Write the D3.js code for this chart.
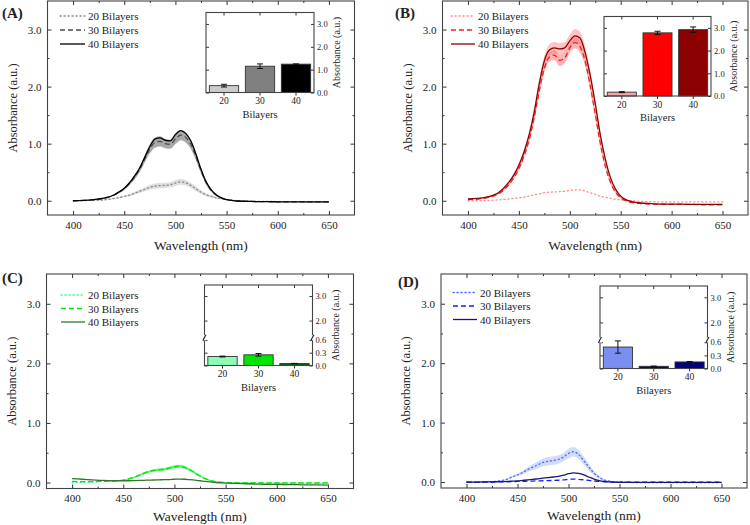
<!DOCTYPE html>
<html><head><meta charset="utf-8">
<script src="https://cdn.jsdelivr.net/npm/d3@7"></script>
<style>
body{margin:0;background:#fff}
svg{display:block}
svg text{font-family:'Liberation Serif','Times New Roman','DejaVu Serif',serif !important;fill:#222}
</style>
</head><body>
<svg id="c" width="750" height="525" style="font-family:'Liberation Serif',serif"></svg>
<script>
// ---------------- DATA ----------------
const wavelengths = [400,410,420,430,440,445,450,455,460,465,470,475,480,485,490,495,500,505,510,515,520,525,530,535,540,545,550,555,560,570,580,590,600,610,620,630,640,650];
const seriesLabels = ["20 Bilayers","30 Bilayers","40 Bilayers"];
const barCategories = ["20","30","40"];
const xTickValues = [400,450,500,550,600,650];
const xMinorValues = [425,475,525,575,625];
const yTickValues = [0,1,2,3];
const yMinorValues = [0.5,1.5,2.5];
const insetTicks = [0,1,2,3];
const insetTicksLow = [0,0.3,0.6];
const insetTicksHigh = [2,3];

// Panel A (grey)
const absA20 = [0,0.003,0.008,0.015,0.04,0.055,0.075,0.10,0.13,0.165,0.20,0.235,0.255,0.265,0.27,0.28,0.31,0.33,0.315,0.27,0.21,0.15,0.105,0.075,0.05,0.035,0.02,0.01,0.0,-0.005,-0.01,-0.01,-0.015,-0.015,-0.015,-0.02,-0.02,-0.02];
const absA30 = [0,0.005,0.015,0.04,0.10,0.15,0.21,0.30,0.41,0.55,0.73,0.91,1.02,1.04,1.00,0.99,1.08,1.15,1.11,0.99,0.78,0.53,0.32,0.18,0.10,0.05,0.02,0.005,-0.005,-0.01,-0.015,-0.015,-0.02,-0.02,-0.02,-0.02,-0.02,-0.02];
const absA40 = [0,0.005,0.02,0.045,0.10,0.155,0.22,0.31,0.43,0.57,0.76,0.95,1.08,1.10,1.06,1.05,1.16,1.23,1.18,1.05,0.82,0.55,0.33,0.19,0.10,0.05,0.02,0.005,-0.005,-0.01,-0.015,-0.015,-0.02,-0.02,-0.02,-0.02,-0.02,-0.02];
const sdA20 = [0,0,0.005,0.005,0.01,0.01,0.015,0.02,0.025,0.03,0.035,0.04,0.045,0.045,0.045,0.045,0.05,0.05,0.05,0.045,0.04,0.03,0.025,0.02,0.015,0.01,0.005,0.005,0,0,0,0,0,0,0,0,0,0];
const sdA30 = [0,0,0.005,0.005,0.01,0.015,0.02,0.03,0.04,0.05,0.06,0.08,0.09,0.09,0.08,0.08,0.09,0.09,0.09,0.08,0.07,0.05,0.035,0.02,0.015,0.01,0.005,0,0,0,0,0,0,0,0,0,0,0];
const barsA = [0.30,1.15,1.24];
const errA = [0.06,0.10,0.01];

// Panel B (red)
const absB20 = [0,0,0.005,0.015,0.03,0.04,0.05,0.065,0.08,0.10,0.12,0.14,0.15,0.155,0.16,0.165,0.18,0.19,0.19,0.17,0.14,0.11,0.08,0.06,0.04,0.025,0.015,0.005,0.0,-0.01,-0.015,-0.02,-0.02,-0.02,-0.02,-0.02,-0.02,-0.02];
const absB30 = [0.02,0.03,0.06,0.12,0.28,0.40,0.56,0.78,1.06,1.45,1.92,2.32,2.52,2.55,2.46,2.50,2.68,2.77,2.70,2.45,2.02,1.52,1.00,0.60,0.32,0.15,0.05,0.0,-0.03,-0.05,-0.06,-0.06,-0.065,-0.065,-0.065,-0.07,-0.07,-0.07];
const absB40 = [0.03,0.04,0.07,0.14,0.32,0.45,0.62,0.85,1.15,1.55,2.05,2.45,2.64,2.68,2.66,2.68,2.80,2.89,2.85,2.60,2.20,1.70,1.15,0.72,0.40,0.20,0.08,0.02,-0.01,-0.04,-0.05,-0.06,-0.06,-0.06,-0.065,-0.065,-0.065,-0.065];
const sdB30 = [0,0,0.01,0.01,0.02,0.02,0.03,0.03,0.04,0.05,0.06,0.07,0.08,0.09,0.10,0.09,0.09,0.10,0.10,0.09,0.08,0.07,0.05,0.04,0.03,0.02,0.01,0.01,0,0,0,0,0,0,0,0,0,0];
const sdB40 = [0,0,0.01,0.01,0.02,0.03,0.04,0.05,0.06,0.07,0.08,0.09,0.10,0.10,0.10,0.10,0.11,0.12,0.11,0.10,0.09,0.07,0.05,0.04,0.03,0.02,0.01,0.01,0,0,0,0,0,0,0,0,0,0];
const barsB = [0.17,2.78,2.92];
const errB = [0.02,0.07,0.12];

// Panel C (green)
const absC20 = [0,0.005,0.01,0.02,0.025,0.03,0.04,0.055,0.08,0.11,0.15,0.18,0.20,0.21,0.22,0.24,0.26,0.27,0.25,0.21,0.16,0.11,0.065,0.035,0.015,0.005,0.0,-0.005,-0.01,-0.01,-0.015,-0.015,-0.015,-0.015,-0.015,-0.015,-0.015,-0.015];
const absC30 = [0.02,0.015,0.015,0.02,0.025,0.03,0.04,0.06,0.085,0.12,0.155,0.185,0.205,0.215,0.225,0.245,0.265,0.275,0.255,0.215,0.165,0.11,0.065,0.035,0.015,0.005,0.0,0.0,-0.005,-0.005,-0.005,-0.005,-0.005,-0.005,-0.005,-0.005,-0.005,-0.005];
const absC40 = [0.065,0.055,0.045,0.035,0.03,0.03,0.03,0.03,0.032,0.035,0.038,0.04,0.043,0.045,0.048,0.05,0.055,0.058,0.055,0.048,0.04,0.03,0.02,0.01,0.0,-0.005,-0.01,-0.012,-0.015,-0.02,-0.025,-0.03,-0.03,-0.035,-0.035,-0.04,-0.04,-0.045];
const sdC20 = [0,0,0,0,0.005,0.005,0.005,0.01,0.01,0.012,0.015,0.015,0.018,0.018,0.02,0.02,0.022,0.022,0.02,0.018,0.015,0.012,0.01,0.008,0.005,0.005,0.005,0.005,0.005,0.005,0.005,0.005,0.005,0.005,0.005,0.005,0.005,0.005];
const sdC30 = [0,0,0,0,0.005,0.005,0.006,0.01,0.012,0.014,0.016,0.017,0.018,0.02,0.02,0.022,0.024,0.024,0.022,0.02,0.016,0.012,0.01,0.008,0.006,0.006,0.006,0.006,0.006,0.006,0.006,0.006,0.006,0.006,0.006,0.006,0.006,0.006];
const barsC = [0.21,0.25,0.045];
const errC = [0.01,0.03,0.005];

// Panel D (blue)
const absD20 = [0,0,0.005,0.015,0.05,0.09,0.12,0.16,0.21,0.25,0.29,0.33,0.35,0.36,0.38,0.42,0.48,0.51,0.46,0.36,0.25,0.15,0.08,0.035,0.015,0.005,0,0,-0.005,-0.01,-0.01,-0.01,-0.01,-0.01,-0.01,-0.01,-0.01,-0.01];
const absD30 = [0,0,0,0.002,0.005,0.007,0.01,0.012,0.015,0.017,0.02,0.022,0.025,0.027,0.03,0.036,0.045,0.05,0.046,0.038,0.028,0.018,0.01,0.005,0.002,0,0,0,0,0,0,0,0,0,0,0,0,0];
const absD40 = [0,0,0.002,0.005,0.01,0.015,0.02,0.028,0.036,0.045,0.055,0.065,0.075,0.085,0.095,0.115,0.14,0.155,0.145,0.12,0.085,0.05,0.025,0.01,0.003,-0.002,-0.004,-0.005,-0.005,-0.005,-0.005,-0.005,-0.005,-0.005,-0.005,-0.005,-0.005,-0.005];
const sdD20 = [0,0,0,0.005,0.01,0.015,0.02,0.03,0.04,0.05,0.06,0.065,0.07,0.07,0.07,0.07,0.08,0.08,0.075,0.07,0.06,0.04,0.025,0.015,0.01,0.005,0,0,0,0,0,0,0,0,0,0,0,0];
const barsD = [0.49,0.05,0.15];
const errD = [0.14,0.005,0.01];

// ---------------- DRAWING ----------------
const svg = d3.select("#c");
const FONT = "'Liberation Serif','Times New Roman',serif";
const dashes = ["1.2,2.8","5,3",null];

function styleAxis(sel, size) {
  sel.select(".domain").remove();
  sel.attr("font-family", FONT).attr("font-size", size);
  sel.selectAll("line").attr("stroke", "#333").attr("stroke-width", 1);
  sel.selectAll("text").attr("fill", "#222").style("font-family", FONT);
}
function txt(sel) { return sel.style("font-family", FONT); }

function drawPanel(p) {
  const g = svg.append("g");
  const x = d3.scaleLinear().domain([375, 675]).range([p.left, p.right]);
  const y = d3.scaleLinear().domain(p.yDomain).range([p.bottom, p.top]);

  p.series.forEach(s => {
    if (!s.sd) return;
    const area = d3.area()
      .x((d, i) => x(wavelengths[i]))
      .y0((d, i) => y(d - s.sd[i]))
      .y1((d, i) => y(d + s.sd[i]))
      .curve(d3.curveMonotoneX);
    g.append("path").datum(s.values).attr("d", area)
      .attr("fill", s.band).attr("opacity", s.bandOpacity);
  });
  const line = d3.line().x((d, i) => x(wavelengths[i])).y(d => y(d)).curve(d3.curveMonotoneX);
  p.series.forEach((s, k) => {
    g.append("path").datum(s.values).attr("d", line)
      .attr("fill", "none").attr("stroke", s.color).attr("stroke-width", 1.3)
      .attr("stroke-linecap", k === 0 ? "round" : "butt")
      .attr("stroke-dasharray", dashes[k]);
  });

  const gb = g.append("g").attr("transform", `translate(0,${p.bottom})`)
    .call(d3.axisBottom(x).tickValues(xTickValues).tickSize(-4).tickPadding(6).tickFormat(d3.format("d")));
  styleAxis(gb, 11);
  styleAxis(g.append("g").attr("transform", `translate(0,${p.bottom})`)
    .call(d3.axisBottom(x).tickValues(xMinorValues).tickSize(-2).tickFormat("")), 11);
  styleAxis(g.append("g").attr("transform", `translate(0,${p.top})`)
    .call(d3.axisTop(x).tickValues(xTickValues).tickSize(-4).tickFormat("")), 11);
  styleAxis(g.append("g").attr("transform", `translate(0,${p.top})`)
    .call(d3.axisTop(x).tickValues(xMinorValues).tickSize(-2).tickFormat("")), 11);
  styleAxis(g.append("g").attr("transform", `translate(${p.left},0)`)
    .call(d3.axisLeft(y).tickValues(yTickValues).tickSize(-4).tickPadding(6).tickFormat(d3.format(".1f"))), 11);
  styleAxis(g.append("g").attr("transform", `translate(${p.left},0)`)
    .call(d3.axisLeft(y).tickValues(yMinorValues).tickSize(-2).tickFormat("")), 11);
  styleAxis(g.append("g").attr("transform", `translate(${p.right},0)`)
    .call(d3.axisRight(y).tickValues(yTickValues).tickSize(-4).tickFormat("")), 11);
  styleAxis(g.append("g").attr("transform", `translate(${p.right},0)`)
    .call(d3.axisRight(y).tickValues(yMinorValues).tickSize(-2).tickFormat("")), 11);

  g.append("rect").attr("x", p.left).attr("y", p.top)
    .attr("width", p.right - p.left).attr("height", p.bottom - p.top)
    .attr("fill", "none").attr("stroke", "#444").attr("stroke-width", 1.1);

  txt(g.append("text").attr("x", (p.left + p.right) / 2).attr("y", p.bottom + p.xTitleGap)
    .attr("text-anchor", "middle").attr("font-size", 13.5).text("Wavelength (nm)"));
  txt(g.append("text").attr("transform", `translate(${p.left - 31},${(p.top + p.bottom) / 2}) rotate(-90)`)
    .attr("text-anchor", "middle").attr("font-size", 12.5).text("Absorbance (a.u.)"));
  txt(g.append("text").attr("x", p.labelX).attr("y", p.labelY)
    .attr("font-size", 15).attr("font-weight", "bold").text(p.label));

  p.series.forEach((s, k) => {
    const ly = p.legend.y[k];
    g.append("line").attr("x1", p.legend.x0).attr("x2", p.legend.x1).attr("y1", ly).attr("y2", ly)
      .attr("stroke", s.color).attr("stroke-width", 1.3)
      .attr("stroke-linecap", k === 0 ? "round" : "butt")
      .attr("stroke-dasharray", dashes[k]);
    txt(g.append("text").attr("x", p.legend.tx).attr("y", ly + 4).attr("font-size", 11).text(seriesLabels[k]));
  });

  drawInset(g, p.inset);
}

function drawInset(g, ins) {
  const gi = g.append("g");
  gi.append("rect").attr("x", ins.left).attr("y", ins.top)
    .attr("width", ins.right - ins.left).attr("height", ins.bottom - ins.top)
    .attr("fill", "#fff").attr("stroke", "none");
  const xb = d3.scaleBand().domain(barCategories).range([ins.left, ins.right])
    .paddingInner(0.186).paddingOuter(0.093);
  let yb, lo, hi, brkY;
  if (!ins.broken) {
    lo = d3.scaleLinear().domain([0, 3.5]).range([ins.bottom, ins.top]);
    yb = v => lo(v);
  } else {
    const h = ins.bottom - ins.top;
    brkY = ins.bottom - 0.345 * h;
    lo = d3.scaleLinear().domain([0, 0.65]).range([ins.bottom, brkY]);
    hi = d3.scaleLinear().domain([1.3, 3.45]).range([brkY, ins.top]);
    yb = v => v <= 0.65 ? lo(v) : hi(v);
  }
  barCategories.forEach((c, i) => {
    gi.append("rect").attr("x", xb(c)).attr("y", yb(ins.values[i]))
      .attr("width", xb.bandwidth()).attr("height", ins.bottom - yb(ins.values[i]))
      .attr("fill", ins.colors[i]).attr("stroke", "#333").attr("stroke-width", 0.9);
    const cx = xb(c) + xb.bandwidth() / 2;
    const y1 = yb(ins.values[i] + ins.err[i]), y2 = yb(Math.max(0, ins.values[i] - ins.err[i]));
    gi.append("line").attr("x1", cx).attr("x2", cx).attr("y1", y1).attr("y2", y2).attr("stroke", "#111").attr("stroke-width", 1);
    [y1, y2].forEach(yy => gi.append("line").attr("x1", cx - 3).attr("x2", cx + 3).attr("y1", yy).attr("y2", yy).attr("stroke", "#111").attr("stroke-width", 1));
  });
  const gx = gi.append("g").attr("transform", `translate(0,${ins.bottom})`)
    .call(d3.axisBottom(xb).tickSize(3).tickPadding(2));
  styleAxis(gx, 9.5);
  styleAxis(gi.append("g").attr("transform", `translate(0,${ins.top})`)
    .call(d3.axisTop(xb).tickSize(-3).tickFormat("")), 9);
  const axes = ins.broken ? [[lo, insetTicksLow], [hi, insetTicksHigh]] : [[lo, insetTicks]];
  axes.forEach(([sc, tv]) => {
    styleAxis(gi.append("g").attr("transform", `translate(${ins.right},0)`)
      .call(d3.axisRight(sc).tickValues(tv).tickSize(-3).tickPadding(3).tickFormat(d3.format(".1f"))), 8.5);
    styleAxis(gi.append("g").attr("transform", `translate(${ins.left},0)`)
      .call(d3.axisLeft(sc).tickValues(tv).tickSize(-3).tickFormat("")), 8.5);
  });
  gi.append("rect").attr("x", ins.left).attr("y", ins.top)
    .attr("width", ins.right - ins.left).attr("height", ins.bottom - ins.top)
    .attr("fill", "none").attr("stroke", "#444").attr("stroke-width", 1.1);
  if (ins.broken) {
    [ins.left, ins.right].forEach(xx => {
      gi.append("rect").attr("x", xx - 2).attr("y", brkY - 2.5).attr("width", 4).attr("height", 5).attr("fill", "#fff");
      gi.append("path").attr("d", `M${xx - 1.5},${brkY + 3} Q${xx - 0.5},${brkY} ${xx + 1.5},${brkY - 3}`)
        .attr("fill", "none").attr("stroke", "#222").attr("stroke-width", 1.2);
    });
  }
  txt(gi.append("text").attr("x", (ins.left + ins.right) / 2).attr("y", ins.bottom + 25)
    .attr("text-anchor", "middle").attr("font-size", 10.5).text("Bilayers"));
  txt(gi.append("text").attr("transform", `translate(${ins.right + 26},${(ins.top + ins.bottom) / 2}) rotate(-90)`)
    .attr("text-anchor", "middle").attr("font-size", 10).text("Absorbance (a.u.)"));
}

const panels = [
  { label: "(A)", labelX: 2, labelY: 18, left: 47.5, right: 354.5, top: 1, bottom: 215, yDomain: [-0.25, 3.5], xTitleGap: 35,
    legend: { x0: 60, x1: 85, tx: 88, y: [16, 30, 44] },
    series: [
      { values: absA20, sd: sdA20, color: "#8c8c8c", band: "#bdbdbd", bandOpacity: 0.5 },
      { values: absA30, sd: sdA30, color: "#4a4a4a", band: "#707070", bandOpacity: 0.6 },
      { values: absA40, sd: null, color: "#000000" } ],
    inset: { left: 206, right: 314, top: 12.5, bottom: 92.5, values: barsA, err: errA, broken: false,
      colors: ["#cccccc", "#808080", "#000000"] } },
  { label: "(B)", labelX: 395, labelY: 18, left: 442.5, right: 748, top: 1, bottom: 215, yDomain: [-0.25, 3.5], xTitleGap: 35,
    legend: { x0: 451, x1: 475, tx: 478, y: [16, 30, 44] },
    series: [
      { values: absB20, sd: null, color: "#ff8c8c" },
      { values: absB30, sd: sdB30, color: "#ff1a1a", band: "#ff5a5a", bandOpacity: 0.45 },
      { values: absB40, sd: sdB40, color: "#8b0000", band: "#ff6a6a", bandOpacity: 0.4 } ],
    inset: { left: 604, right: 711, top: 16.5, bottom: 96, values: barsB, err: errB, broken: false,
      colors: ["#f5a3a3", "#ff0000", "#8b0000"] } },
  { label: "(C)", labelX: 2, labelY: 283, left: 46.5, right: 353.5, top: 274, bottom: 488.5, yDomain: [-0.1, 3.5], xTitleGap: 32,
    legend: { x0: 61, x1: 85, tx: 88, y: [295, 308.5, 322] },
    series: [
      { values: absC20, sd: sdC20, color: "#33ff99", band: "#33ff77", bandOpacity: 0.5 },
      { values: absC30, sd: sdC30, color: "#00e600", band: "#22ee22", bandOpacity: 0.5 },
      { values: absC40, sd: null, color: "#2a7a2a" } ],
    inset: { left: 204.5, right: 312.5, top: 285, bottom: 365.5, values: barsC, err: errC, broken: true,
      colors: ["#8affb4", "#00e600", "#0a5c0a"] } },
  { label: "(D)", labelX: 398, labelY: 287, left: 441, right: 747, top: 274, bottom: 488, yDomain: [-0.1, 3.5], xTitleGap: 32,
    legend: { x0: 453, x1: 477, tx: 480, y: [292.5, 306, 319.5] },
    series: [
      { values: absD20, sd: sdD20, color: "#5068ff", band: "#b8c6f2", bandOpacity: 0.6 },
      { values: absD30, sd: null, color: "#1a1aff" },
      { values: absD40, sd: null, color: "#16167a" } ],
    inset: { left: 600, right: 707.5, top: 286, bottom: 368.5, values: barsD, err: errD, broken: true,
      colors: ["#7b8ff0", "#00008b", "#000080"] } }
];
panels.forEach(drawPanel);
</script>
</body></html>
